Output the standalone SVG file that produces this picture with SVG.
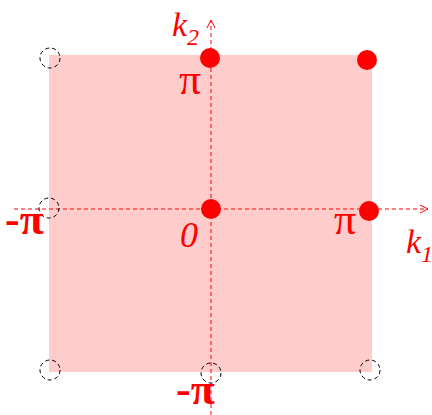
<svg xmlns="http://www.w3.org/2000/svg" width="432" height="415" viewBox="0 0 432 415">
<style>
.lbl{font-family:"Liberation Serif","DejaVu Serif",serif;fill:#ff0000;}
.it{font-style:italic;}
.axis{stroke:#ff0000;stroke-width:1;stroke-dasharray:4,3;fill:none;}
.ghost{fill:none;stroke:#000;stroke-width:1;stroke-dasharray:4,3;}
.dot{fill:#ff0000;}
</style>
<defs>
<marker id="arr" markerWidth="10" markerHeight="10" refX="9" refY="5" orient="auto" markerUnits="userSpaceOnUse">
<path d="M1,1 L9,5 L1,9" fill="none" stroke="#ff0000" stroke-width="1"/>
</marker>
</defs>
<g id="zone"><rect x="49" y="55" width="323" height="317" fill="#ffcccc"/></g>
<g id="connectors">
<line class="axis" x1="14" y1="209" x2="428" y2="209" marker-end="url(#arr)"/>
<line class="axis" x1="211" y1="415" x2="211" y2="20" marker-end="url(#arr)"/>
</g>
<g id="ghosts">
<circle class="ghost" cx="50" cy="58" r="10"/>
<circle class="ghost" cx="49" cy="208" r="10"/>
<circle class="ghost" cx="50" cy="370" r="10"/>
<circle class="ghost" cx="211" cy="373" r="10"/>
<circle class="ghost" cx="370" cy="370" r="10"/>
</g>
<g id="points">
<circle id="p-origin" class="dot" cx="211" cy="209" r="10"/>
<circle id="p-top" class="dot" cx="210" cy="58" r="10"/>
<circle id="p-corner" class="dot" cx="367" cy="60" r="10"/>
<circle id="p-right" class="dot" cx="369" cy="211" r="10"/>
</g>
<g id="labels">
<text class="lbl it" x="172" y="36" font-size="34">k<tspan font-size="24" dy="9">2</tspan></text>
<text class="lbl" x="179" y="94" font-size="44">π</text>
<text class="lbl" x="5" y="234" font-size="44" font-weight="bold">-π</text>
<text class="lbl it" x="180" y="247" font-size="36">0</text>
<text class="lbl" x="334" y="234" font-size="44">π</text>
<text class="lbl it" x="406" y="253" font-size="34">k<tspan font-size="24" dy="9">1</tspan></text>
<text class="lbl" x="176" y="404" font-size="44" font-weight="bold">-π</text>
</g>
</svg>
